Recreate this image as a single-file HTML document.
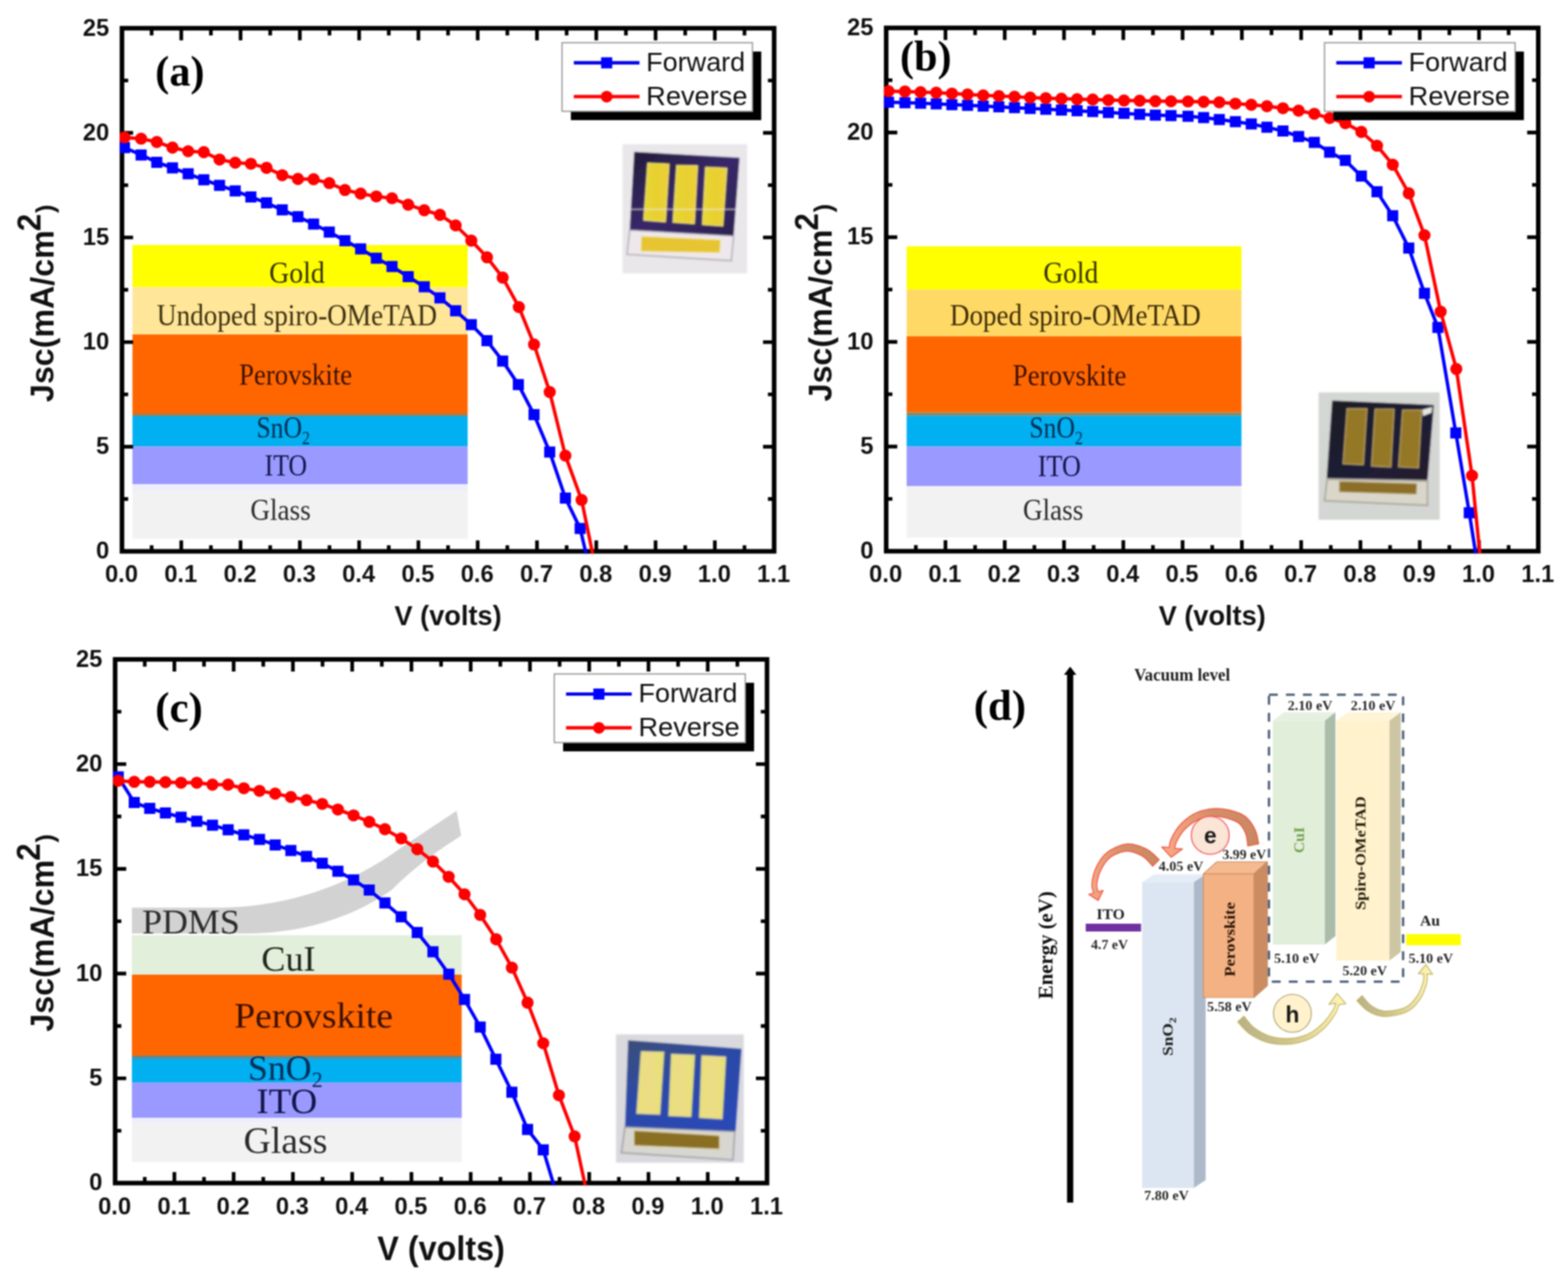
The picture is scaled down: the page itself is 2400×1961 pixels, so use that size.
<!DOCTYPE html>
<html lang="en"><head><meta charset="utf-8"><title>J-V curves and energy level diagram</title>
<style>html,body{margin:0;padding:0;background:#fff;}body{width:2400px;height:1961px;overflow:hidden;}svg{display:block;filter:blur(0.9px);}</style>
</head><body>
<svg width="2400" height="1961" viewBox="0 0 2400 1961">
<defs>
<filter id="ph" x="-5%" y="-5%" width="110%" height="110%"><feGaussianBlur stdDeviation="1.2"/></filter>
<linearGradient id="gA" x1="0" y1="0" x2="1" y2="1"><stop offset="0" stop-color="#221c38"/><stop offset="0.5" stop-color="#38286a"/><stop offset="1" stop-color="#2c2250"/></linearGradient>
<linearGradient id="gB" x1="0" y1="0" x2="1" y2="1"><stop offset="0" stop-color="#1c1a24"/><stop offset="0.6" stop-color="#1f1a36"/><stop offset="1" stop-color="#241c2c"/></linearGradient>
<linearGradient id="gC" x1="0" y1="0" x2="0.6" y2="1"><stop offset="0" stop-color="#3c4f78"/><stop offset="0.5" stop-color="#2c4aa6"/><stop offset="1" stop-color="#2b49b4"/></linearGradient>
<linearGradient id="gGoldA" x1="0" y1="0" x2="1" y2="0"><stop offset="0" stop-color="#e6d838"/><stop offset="0.5" stop-color="#e8d02e"/><stop offset="1" stop-color="#eccf3a"/></linearGradient>
<linearGradient id="gGoldC" x1="0" y1="0" x2="1" y2="0"><stop offset="0" stop-color="#e9e07a"/><stop offset="0.5" stop-color="#ecdc86"/><stop offset="1" stop-color="#e6e274"/></linearGradient>
</defs>
<rect x="0" y="0" width="2400" height="1961" fill="#fff" />
<g id="panel-a">
<rect x="202.7" y="375" width="513.1" height="64.5" fill="#ffff00" />
<rect x="202.7" y="439.5" width="513.1" height="72.5" fill="#ffe699" />
<rect x="202.7" y="512" width="513.1" height="121" fill="#ff6600" />
<rect x="202.7" y="633" width="513.1" height="4" fill="#a08058" />
<rect x="202.7" y="637" width="513.1" height="46.4" fill="#00b0f0" />
<rect x="202.7" y="683.4" width="513.1" height="57.9" fill="#9999ff" />
<rect x="202.7" y="741.3" width="513.1" height="9.7" fill="#eeeefc" />
<rect x="202.7" y="751" width="513.1" height="73.5" fill="#f2f2f2" />
<text x="412" y="432.5" font-family="Liberation Serif, Times New Roman, Times, serif" font-size="47" font-weight="normal" text-anchor="start" fill="#333000" textLength="85" lengthAdjust="spacingAndGlyphs">Gold</text>
<text x="240" y="497.5" font-family="Liberation Serif, Times New Roman, Times, serif" font-size="47" font-weight="normal" text-anchor="start" fill="#3d3010" textLength="429" lengthAdjust="spacingAndGlyphs">Undoped spiro-OMeTAD</text>
<text x="366" y="589" font-family="Liberation Serif, Times New Roman, Times, serif" font-size="47" font-weight="normal" text-anchor="start" fill="#3a1000" textLength="173" lengthAdjust="spacingAndGlyphs">Perovskite</text>
<text x="392.5" y="670.3" font-family="Liberation Serif, Times New Roman, Times, serif" font-size="47" fill="#002e55" textLength="82" lengthAdjust="spacingAndGlyphs">SnO<tspan font-size="29.14" dy="9.4">2</tspan></text>
<text x="405" y="728" font-family="Liberation Serif, Times New Roman, Times, serif" font-size="47" font-weight="normal" text-anchor="start" fill="#14144a" textLength="65" lengthAdjust="spacingAndGlyphs">ITO</text>
<text x="383.25" y="795.5" font-family="Liberation Serif, Times New Roman, Times, serif" font-size="47" font-weight="normal" text-anchor="start" fill="#2c2c2c" textLength="92.5" lengthAdjust="spacingAndGlyphs">Glass</text>
<g filter="url(#ph)">
<rect x="952.8" y="220.7" width="190.8" height="197.7" fill="#e9e7ea" />
<polygon points="963.9,352.1 1122.9,361.1 1119.4,399.1 959.7,389.4" fill="#eee8ec" stroke="#b8b4bc" stroke-width="2.5"/>
<polygon points="970.8,232.5 1131.9,241.5 1122.9,360.4 963.9,351.4" fill="url(#gA)" />
<polygon points="991.5,249.8 1024,251.2 1018.5,339.6 985.3,336.9" fill="url(#gGoldA)" stroke="#f0e27a" stroke-width="1.6"/>
<polygon points="1035.8,253.2 1067.6,253.9 1062.7,342.4 1030.2,340.3" fill="url(#gGoldA)" stroke="#f0e27a" stroke-width="1.6"/>
<polygon points="1080,256 1112.5,257.4 1106.3,345.9 1075.2,343.8" fill="url(#gGoldA)" stroke="#f0e27a" stroke-width="1.6"/>
<polygon points="981.8,361.8 1102.8,367.3 1101.4,386.6 981.2,384.6" fill="#e6c430" stroke="#f0e27a" stroke-width="1.2"/>
<path d="M958 320.5H1132" stroke="#f4eef0" stroke-width="1.4" opacity="0.75"/>
</g>
<path d="M232.07 844v-9.3M232.07 43.2v11M277.45 844v-16.8M277.45 43.2v18.5M322.82 844v-9.3M322.82 43.2v11M368.19 844v-16.8M368.19 43.2v18.5M413.56 844v-9.3M413.56 43.2v11M458.94 844v-16.8M458.94 43.2v18.5M504.31 844v-9.3M504.31 43.2v11M549.68 844v-16.8M549.68 43.2v18.5M595.05 844v-9.3M595.05 43.2v11M640.43 844v-16.8M640.43 43.2v18.5M685.8 844v-9.3M685.8 43.2v11M731.17 844v-16.8M731.17 43.2v18.5M776.55 844v-9.3M776.55 43.2v11M821.92 844v-16.8M821.92 43.2v18.5M867.29 844v-9.3M867.29 43.2v11M912.66 844v-16.8M912.66 43.2v18.5M958.04 844v-9.3M958.04 43.2v11M1003.41 844v-16.8M1003.41 43.2v18.5M1048.78 844v-9.3M1048.78 43.2v11M1094.15 844v-16.8M1094.15 43.2v18.5M1139.53 844v-9.3M1139.53 43.2v11M186.7 763.92h9.5M1184.9 763.92h-9.5M186.7 683.84h17M1184.9 683.84h-17M186.7 603.76h9.5M1184.9 603.76h-9.5M186.7 523.68h17M1184.9 523.68h-17M186.7 443.6h9.5M1184.9 443.6h-9.5M186.7 363.52h17M1184.9 363.52h-17M186.7 283.44h9.5M1184.9 283.44h-9.5M186.7 203.36h17M1184.9 203.36h-17M186.7 123.28h9.5M1184.9 123.28h-9.5" stroke="#000" stroke-width="5.6" fill="none"/>
<rect x="186.7" y="43.2" width="998.2" height="800.8" fill="none" stroke="#000" stroke-width="7"/>
<text x="185.9" y="891.4" font-family="Liberation Sans, Arial, Helvetica, sans-serif" font-size="36.3" font-weight="bold" text-anchor="middle" fill="#111">0.0</text>
<text x="276.65" y="891.4" font-family="Liberation Sans, Arial, Helvetica, sans-serif" font-size="36.3" font-weight="bold" text-anchor="middle" fill="#111">0.1</text>
<text x="367.39" y="891.4" font-family="Liberation Sans, Arial, Helvetica, sans-serif" font-size="36.3" font-weight="bold" text-anchor="middle" fill="#111">0.2</text>
<text x="458.14" y="891.4" font-family="Liberation Sans, Arial, Helvetica, sans-serif" font-size="36.3" font-weight="bold" text-anchor="middle" fill="#111">0.3</text>
<text x="548.88" y="891.4" font-family="Liberation Sans, Arial, Helvetica, sans-serif" font-size="36.3" font-weight="bold" text-anchor="middle" fill="#111">0.4</text>
<text x="639.63" y="891.4" font-family="Liberation Sans, Arial, Helvetica, sans-serif" font-size="36.3" font-weight="bold" text-anchor="middle" fill="#111">0.5</text>
<text x="730.37" y="891.4" font-family="Liberation Sans, Arial, Helvetica, sans-serif" font-size="36.3" font-weight="bold" text-anchor="middle" fill="#111">0.6</text>
<text x="821.12" y="891.4" font-family="Liberation Sans, Arial, Helvetica, sans-serif" font-size="36.3" font-weight="bold" text-anchor="middle" fill="#111">0.7</text>
<text x="911.86" y="891.4" font-family="Liberation Sans, Arial, Helvetica, sans-serif" font-size="36.3" font-weight="bold" text-anchor="middle" fill="#111">0.8</text>
<text x="1002.61" y="891.4" font-family="Liberation Sans, Arial, Helvetica, sans-serif" font-size="36.3" font-weight="bold" text-anchor="middle" fill="#111">0.9</text>
<text x="1093.35" y="891.4" font-family="Liberation Sans, Arial, Helvetica, sans-serif" font-size="36.3" font-weight="bold" text-anchor="middle" fill="#111">1.0</text>
<text x="1184.1" y="891.4" font-family="Liberation Sans, Arial, Helvetica, sans-serif" font-size="36.3" font-weight="bold" text-anchor="middle" fill="#111">1.1</text>
<text x="167.2" y="855.3" font-family="Liberation Sans, Arial, Helvetica, sans-serif" font-size="36.3" font-weight="bold" text-anchor="end" fill="#111">0</text>
<text x="167.2" y="695.14" font-family="Liberation Sans, Arial, Helvetica, sans-serif" font-size="36.3" font-weight="bold" text-anchor="end" fill="#111">5</text>
<text x="167.2" y="534.98" font-family="Liberation Sans, Arial, Helvetica, sans-serif" font-size="36.3" font-weight="bold" text-anchor="end" fill="#111">10</text>
<text x="167.2" y="374.82" font-family="Liberation Sans, Arial, Helvetica, sans-serif" font-size="36.3" font-weight="bold" text-anchor="end" fill="#111">15</text>
<text x="167.2" y="214.66" font-family="Liberation Sans, Arial, Helvetica, sans-serif" font-size="36.3" font-weight="bold" text-anchor="end" fill="#111">20</text>
<text x="167.2" y="54.5" font-family="Liberation Sans, Arial, Helvetica, sans-serif" font-size="36.3" font-weight="bold" text-anchor="end" fill="#111">25</text>
<text x="603.8" y="957" font-family="Liberation Sans, Arial, Helvetica, sans-serif" font-size="43" font-weight="bold" text-anchor="start" fill="#111" textLength="164" lengthAdjust="spacingAndGlyphs">V (volts)</text>
<g transform="translate(82.2 615.5) rotate(-90)" font-family="Liberation Sans, Arial, Helvetica, sans-serif" fill="#111"><text x="0" y="0" font-weight="bold" font-size="49.3">Jsc(mA/cm</text><text x="261.5" y="-20.7" font-weight="bold" font-size="49.3" textLength="26.8" lengthAdjust="spacingAndGlyphs">2</text><text x="289.6" y="0" font-weight="bold" font-size="38.5">)</text></g>
<clipPath id="clipA"><rect x="183.2" y="39.7" width="1005.2" height="807.8"/></clipPath>
<g clip-path="url(#clipA)">
<path d="M190.5 225.9 L216 237.2 L240 248.4 L264 256.9 L288 266 L312 275.3 L336 283.7 L360 292.2 L384 301.5 L408 310.6 L432 321.3 L456 331.7 L480 343 L504 355.2 L528 368.4 L552 381.1 L576 395.3 L600 408 L624.8 423.5 L649.4 439 L673.4 456 L697.4 475.7 L721.4 497 L745.4 521.6 L769.4 552.7 L793.4 588.8 L817.4 634.8 L841.4 691.9 L865.4 762.4 L888 809 L897.4 849" fill="none" stroke="#0000ff" stroke-width="5.2" stroke-linejoin="round"/>
<path d="M182 217.4h17v17h-17zM207.5 228.7h17v17h-17zM231.5 239.9h17v17h-17zM255.5 248.4h17v17h-17zM279.5 257.5h17v17h-17zM303.5 266.8h17v17h-17zM327.5 275.2h17v17h-17zM351.5 283.7h17v17h-17zM375.5 293h17v17h-17zM399.5 302.1h17v17h-17zM423.5 312.8h17v17h-17zM447.5 323.2h17v17h-17zM471.5 334.5h17v17h-17zM495.5 346.7h17v17h-17zM519.5 359.9h17v17h-17zM543.5 372.6h17v17h-17zM567.5 386.8h17v17h-17zM591.5 399.5h17v17h-17zM616.3 415h17v17h-17zM640.9 430.5h17v17h-17zM664.9 447.5h17v17h-17zM688.9 467.2h17v17h-17zM712.9 488.5h17v17h-17zM736.9 513.1h17v17h-17zM760.9 544.2h17v17h-17zM784.9 580.3h17v17h-17zM808.9 626.3h17v17h-17zM832.9 683.4h17v17h-17zM856.9 753.9h17v17h-17zM879.5 800.5h17v17h-17z" fill="#0000ff"/>
<path d="M190.5 210.3 L216 212.3 L240 217.4 L264 225.9 L288 231.5 L312 232.9 L336 244.2 L360 249 L384 250.7 L408 256.9 L432 268.2 L456 273.9 L480 274.4 L504 280.3 L528 290.8 L552 296.4 L576 300.7 L600 303.5 L624.8 313.4 L649.4 321.8 L673.4 328.9 L697.4 345 L721.4 368.4 L745.4 393.8 L769.4 424.9 L794.2 470 L817.4 527.3 L841.4 600.1 L865.4 697.5 L890.2 765.3 L907.4 849" fill="none" stroke="#ff0000" stroke-width="5.2" stroke-linejoin="round"/>
<path d="M181.2 210.3a9.3 9.3 0 1 0 18.6 0a9.3 9.3 0 1 0 -18.6 0zM206.7 212.3a9.3 9.3 0 1 0 18.6 0a9.3 9.3 0 1 0 -18.6 0zM230.7 217.4a9.3 9.3 0 1 0 18.6 0a9.3 9.3 0 1 0 -18.6 0zM254.7 225.9a9.3 9.3 0 1 0 18.6 0a9.3 9.3 0 1 0 -18.6 0zM278.7 231.5a9.3 9.3 0 1 0 18.6 0a9.3 9.3 0 1 0 -18.6 0zM302.7 232.9a9.3 9.3 0 1 0 18.6 0a9.3 9.3 0 1 0 -18.6 0zM326.7 244.2a9.3 9.3 0 1 0 18.6 0a9.3 9.3 0 1 0 -18.6 0zM350.7 249a9.3 9.3 0 1 0 18.6 0a9.3 9.3 0 1 0 -18.6 0zM374.7 250.7a9.3 9.3 0 1 0 18.6 0a9.3 9.3 0 1 0 -18.6 0zM398.7 256.9a9.3 9.3 0 1 0 18.6 0a9.3 9.3 0 1 0 -18.6 0zM422.7 268.2a9.3 9.3 0 1 0 18.6 0a9.3 9.3 0 1 0 -18.6 0zM446.7 273.9a9.3 9.3 0 1 0 18.6 0a9.3 9.3 0 1 0 -18.6 0zM470.7 274.4a9.3 9.3 0 1 0 18.6 0a9.3 9.3 0 1 0 -18.6 0zM494.7 280.3a9.3 9.3 0 1 0 18.6 0a9.3 9.3 0 1 0 -18.6 0zM518.7 290.8a9.3 9.3 0 1 0 18.6 0a9.3 9.3 0 1 0 -18.6 0zM542.7 296.4a9.3 9.3 0 1 0 18.6 0a9.3 9.3 0 1 0 -18.6 0zM566.7 300.7a9.3 9.3 0 1 0 18.6 0a9.3 9.3 0 1 0 -18.6 0zM590.7 303.5a9.3 9.3 0 1 0 18.6 0a9.3 9.3 0 1 0 -18.6 0zM615.5 313.4a9.3 9.3 0 1 0 18.6 0a9.3 9.3 0 1 0 -18.6 0zM640.1 321.8a9.3 9.3 0 1 0 18.6 0a9.3 9.3 0 1 0 -18.6 0zM664.1 328.9a9.3 9.3 0 1 0 18.6 0a9.3 9.3 0 1 0 -18.6 0zM688.1 345a9.3 9.3 0 1 0 18.6 0a9.3 9.3 0 1 0 -18.6 0zM712.1 368.4a9.3 9.3 0 1 0 18.6 0a9.3 9.3 0 1 0 -18.6 0zM736.1 393.8a9.3 9.3 0 1 0 18.6 0a9.3 9.3 0 1 0 -18.6 0zM760.1 424.9a9.3 9.3 0 1 0 18.6 0a9.3 9.3 0 1 0 -18.6 0zM784.9 470a9.3 9.3 0 1 0 18.6 0a9.3 9.3 0 1 0 -18.6 0zM808.1 527.3a9.3 9.3 0 1 0 18.6 0a9.3 9.3 0 1 0 -18.6 0zM832.1 600.1a9.3 9.3 0 1 0 18.6 0a9.3 9.3 0 1 0 -18.6 0zM856.1 697.5a9.3 9.3 0 1 0 18.6 0a9.3 9.3 0 1 0 -18.6 0zM880.9 765.3a9.3 9.3 0 1 0 18.6 0a9.3 9.3 0 1 0 -18.6 0z" fill="#ff0000"/>
</g>
<rect x="873.8" y="78.9" width="291.4" height="105" fill="#000" />
<rect x="860.3" y="65.4" width="291.4" height="105" fill="#fff" stroke="#9a9a9a" stroke-width="2"/>
<path d="M878.3 96.2H978.8" stroke="#0000e8" stroke-width="5.2"/>
<rect x="920.1" y="87.7" width="17" height="17" fill="#0000ff" />
<path d="M878.3 147.9H978.8" stroke="#ff0000" stroke-width="5.2"/>
<circle cx="928.6" cy="147.9" r="9" fill="#ff0000"/>
<text x="989.1" y="108.6" font-family="Liberation Sans, Arial, Helvetica, sans-serif" font-size="40.3" font-weight="normal" text-anchor="start" fill="#111" textLength="151.5" lengthAdjust="spacingAndGlyphs">Forward</text>
<text x="989.1" y="161.1" font-family="Liberation Sans, Arial, Helvetica, sans-serif" font-size="40.3" font-weight="normal" text-anchor="start" fill="#111" textLength="155" lengthAdjust="spacingAndGlyphs">Reverse</text>
<text x="237.6" y="131.3" font-family="Liberation Serif, Times New Roman, Times, serif" font-size="65" font-weight="bold" text-anchor="start" fill="#000" textLength="75.5" lengthAdjust="spacingAndGlyphs">(a)</text>
</g>
<g id="panel-b">
<rect x="1387.7" y="377" width="512.5" height="66.3" fill="#ffff00" />
<rect x="1387.7" y="443.3" width="512.5" height="71.5" fill="#ffd966" />
<rect x="1387.7" y="514.8" width="512.5" height="116.7" fill="#ff6600" />
<rect x="1387.7" y="631.5" width="512.5" height="5.3" fill="#808a70" />
<rect x="1387.7" y="636.8" width="512.5" height="46.6" fill="#00b0f0" />
<rect x="1387.7" y="683.4" width="512.5" height="60.6" fill="#9999ff" />
<rect x="1387.7" y="744" width="512.5" height="79" fill="#f2f2f2" />
<text x="1597" y="432.5" font-family="Liberation Serif, Times New Roman, Times, serif" font-size="47" font-weight="normal" text-anchor="start" fill="#333000" textLength="84" lengthAdjust="spacingAndGlyphs">Gold</text>
<text x="1454" y="497.5" font-family="Liberation Serif, Times New Roman, Times, serif" font-size="47" font-weight="normal" text-anchor="start" fill="#3d2c08" textLength="384" lengthAdjust="spacingAndGlyphs">Doped spiro-OMeTAD</text>
<text x="1550" y="589.5" font-family="Liberation Serif, Times New Roman, Times, serif" font-size="47" font-weight="normal" text-anchor="start" fill="#3a1000" textLength="174" lengthAdjust="spacingAndGlyphs">Perovskite</text>
<text x="1575.5" y="670.3" font-family="Liberation Serif, Times New Roman, Times, serif" font-size="47" fill="#002e55" textLength="82" lengthAdjust="spacingAndGlyphs">SnO<tspan font-size="29.14" dy="9.4">2</tspan></text>
<text x="1588.5" y="729" font-family="Liberation Serif, Times New Roman, Times, serif" font-size="47" font-weight="normal" text-anchor="start" fill="#14144a" textLength="66" lengthAdjust="spacingAndGlyphs">ITO</text>
<text x="1565.75" y="795.5" font-family="Liberation Serif, Times New Roman, Times, serif" font-size="47" font-weight="normal" text-anchor="start" fill="#2c2c2c" textLength="92.5" lengthAdjust="spacingAndGlyphs">Glass</text>
<g filter="url(#ph)">
<rect x="2018.3" y="600.7" width="185.3" height="195" fill="#d3d6d2" />
<polygon points="2031.5,733.5 2184.9,736.2 2184.9,773.6 2027.3,766.6" fill="#dad7ca" stroke="#a8a89c" stroke-width="2.5"/>
<polygon points="2039.1,613.2 2194.6,620.1 2184.9,734.8 2030.8,732.1" fill="url(#gB)" />
<polygon points="2061.9,625.6 2092.3,625.6 2086.8,711.3 2055.7,710" fill="#957828" stroke="#b8a470" stroke-width="1.6"/>
<polygon points="2104.8,626.3 2133.8,626.3 2128.9,714.8 2099.2,713.4" fill="#957828" stroke="#b8a470" stroke-width="1.6"/>
<polygon points="2146.9,627.7 2176,627.7 2171.1,716.2 2140.7,714.8" fill="#957828" stroke="#b8a470" stroke-width="1.6"/>
<polygon points="2050.1,736.9 2168.4,740.4 2167.7,756.3 2050.1,752.8" fill="#8c6e28" stroke="#b8a470" stroke-width="1.2"/>
<polygon points="2177,627 2192,623 2191,632 2178,637" fill="#e8e6e0"/>
</g>
<path d="M1401.77 843.8v-9.3M1401.77 42.7v11M1447.14 843.8v-16.8M1447.14 42.7v18.5M1492.5 843.8v-9.3M1492.5 42.7v11M1537.87 843.8v-16.8M1537.87 42.7v18.5M1583.24 843.8v-9.3M1583.24 42.7v11M1628.61 843.8v-16.8M1628.61 42.7v18.5M1673.98 843.8v-9.3M1673.98 42.7v11M1719.35 843.8v-16.8M1719.35 42.7v18.5M1764.71 843.8v-9.3M1764.71 42.7v11M1810.08 843.8v-16.8M1810.08 42.7v18.5M1855.45 843.8v-9.3M1855.45 42.7v11M1900.82 843.8v-16.8M1900.82 42.7v18.5M1946.19 843.8v-9.3M1946.19 42.7v11M1991.55 843.8v-16.8M1991.55 42.7v18.5M2036.92 843.8v-9.3M2036.92 42.7v11M2082.29 843.8v-16.8M2082.29 42.7v18.5M2127.66 843.8v-9.3M2127.66 42.7v11M2173.03 843.8v-16.8M2173.03 42.7v18.5M2218.4 843.8v-9.3M2218.4 42.7v11M2263.76 843.8v-16.8M2263.76 42.7v18.5M2309.13 843.8v-9.3M2309.13 42.7v11M1356.4 763.69h9.5M2354.5 763.69h-9.5M1356.4 683.58h17M2354.5 683.58h-17M1356.4 603.47h9.5M2354.5 603.47h-9.5M1356.4 523.36h17M2354.5 523.36h-17M1356.4 443.25h9.5M2354.5 443.25h-9.5M1356.4 363.14h17M2354.5 363.14h-17M1356.4 283.03h9.5M2354.5 283.03h-9.5M1356.4 202.92h17M2354.5 202.92h-17M1356.4 122.81h9.5M2354.5 122.81h-9.5" stroke="#000" stroke-width="5.6" fill="none"/>
<rect x="1356.4" y="42.7" width="998.1" height="801.1" fill="none" stroke="#000" stroke-width="7"/>
<text x="1355.6" y="891.2" font-family="Liberation Sans, Arial, Helvetica, sans-serif" font-size="36.3" font-weight="bold" text-anchor="middle" fill="#111">0.0</text>
<text x="1446.34" y="891.2" font-family="Liberation Sans, Arial, Helvetica, sans-serif" font-size="36.3" font-weight="bold" text-anchor="middle" fill="#111">0.1</text>
<text x="1537.07" y="891.2" font-family="Liberation Sans, Arial, Helvetica, sans-serif" font-size="36.3" font-weight="bold" text-anchor="middle" fill="#111">0.2</text>
<text x="1627.81" y="891.2" font-family="Liberation Sans, Arial, Helvetica, sans-serif" font-size="36.3" font-weight="bold" text-anchor="middle" fill="#111">0.3</text>
<text x="1718.55" y="891.2" font-family="Liberation Sans, Arial, Helvetica, sans-serif" font-size="36.3" font-weight="bold" text-anchor="middle" fill="#111">0.4</text>
<text x="1809.28" y="891.2" font-family="Liberation Sans, Arial, Helvetica, sans-serif" font-size="36.3" font-weight="bold" text-anchor="middle" fill="#111">0.5</text>
<text x="1900.02" y="891.2" font-family="Liberation Sans, Arial, Helvetica, sans-serif" font-size="36.3" font-weight="bold" text-anchor="middle" fill="#111">0.6</text>
<text x="1990.75" y="891.2" font-family="Liberation Sans, Arial, Helvetica, sans-serif" font-size="36.3" font-weight="bold" text-anchor="middle" fill="#111">0.7</text>
<text x="2081.49" y="891.2" font-family="Liberation Sans, Arial, Helvetica, sans-serif" font-size="36.3" font-weight="bold" text-anchor="middle" fill="#111">0.8</text>
<text x="2172.23" y="891.2" font-family="Liberation Sans, Arial, Helvetica, sans-serif" font-size="36.3" font-weight="bold" text-anchor="middle" fill="#111">0.9</text>
<text x="2262.96" y="891.2" font-family="Liberation Sans, Arial, Helvetica, sans-serif" font-size="36.3" font-weight="bold" text-anchor="middle" fill="#111">1.0</text>
<text x="2353.7" y="891.2" font-family="Liberation Sans, Arial, Helvetica, sans-serif" font-size="36.3" font-weight="bold" text-anchor="middle" fill="#111">1.1</text>
<text x="1336.9" y="855.1" font-family="Liberation Sans, Arial, Helvetica, sans-serif" font-size="36.3" font-weight="bold" text-anchor="end" fill="#111">0</text>
<text x="1336.9" y="694.88" font-family="Liberation Sans, Arial, Helvetica, sans-serif" font-size="36.3" font-weight="bold" text-anchor="end" fill="#111">5</text>
<text x="1336.9" y="534.66" font-family="Liberation Sans, Arial, Helvetica, sans-serif" font-size="36.3" font-weight="bold" text-anchor="end" fill="#111">10</text>
<text x="1336.9" y="374.44" font-family="Liberation Sans, Arial, Helvetica, sans-serif" font-size="36.3" font-weight="bold" text-anchor="end" fill="#111">15</text>
<text x="1336.9" y="214.22" font-family="Liberation Sans, Arial, Helvetica, sans-serif" font-size="36.3" font-weight="bold" text-anchor="end" fill="#111">20</text>
<text x="1336.9" y="54" font-family="Liberation Sans, Arial, Helvetica, sans-serif" font-size="36.3" font-weight="bold" text-anchor="end" fill="#111">25</text>
<text x="1773.45" y="957" font-family="Liberation Sans, Arial, Helvetica, sans-serif" font-size="43" font-weight="bold" text-anchor="start" fill="#111" textLength="164" lengthAdjust="spacingAndGlyphs">V (volts)</text>
<g transform="translate(1273 614.5) rotate(-90)" font-family="Liberation Sans, Arial, Helvetica, sans-serif" fill="#111"><text x="0" y="0" font-weight="bold" font-size="49.3">Jsc(mA/cm</text><text x="261.5" y="-20.7" font-weight="bold" font-size="49.3" textLength="26.8" lengthAdjust="spacingAndGlyphs">2</text><text x="289.6" y="0" font-weight="bold" font-size="38.5">)</text></g>
<clipPath id="clipB"><rect x="1352.9" y="39.2" width="1005.1" height="808.1"/></clipPath>
<g clip-path="url(#clipB)">
<path d="M1360 156.5 L1385.15 157.2 L1409.1 158 L1433.05 159 L1457 160.2 L1480.95 161.2 L1504.9 162.4 L1528.85 163.6 L1552.8 164.8 L1576.75 166 L1600.7 167.2 L1624.65 168.4 L1648.6 169.6 L1672.55 170.8 L1696.5 172.2 L1720.45 173.6 L1744.4 175 L1768.35 176.2 L1792.3 177 L1818.4 177.9 L1842.3 180.1 L1866.3 182.9 L1890.9 186.3 L1915.2 189.7 L1939.2 194.8 L1963.7 200.5 L1987.7 208.9 L2011.7 218 L2035.2 232.9 L2059.2 245.6 L2083.7 269.6 L2107.7 293.6 L2131.7 330.3 L2156.3 379.7 L2180.3 448.9 L2200.9 501.3 L2228.3 662.8 L2248.9 785 L2259 849" fill="none" stroke="#0000ff" stroke-width="5.2" stroke-linejoin="round"/>
<path d="M1351.5 148h17v17h-17zM1376.65 148.7h17v17h-17zM1400.6 149.5h17v17h-17zM1424.55 150.5h17v17h-17zM1448.5 151.7h17v17h-17zM1472.45 152.7h17v17h-17zM1496.4 153.9h17v17h-17zM1520.35 155.1h17v17h-17zM1544.3 156.3h17v17h-17zM1568.25 157.5h17v17h-17zM1592.2 158.7h17v17h-17zM1616.15 159.9h17v17h-17zM1640.1 161.1h17v17h-17zM1664.05 162.3h17v17h-17zM1688 163.7h17v17h-17zM1711.95 165.1h17v17h-17zM1735.9 166.5h17v17h-17zM1759.85 167.7h17v17h-17zM1783.8 168.5h17v17h-17zM1809.9 169.4h17v17h-17zM1833.8 171.6h17v17h-17zM1857.8 174.4h17v17h-17zM1882.4 177.8h17v17h-17zM1906.7 181.2h17v17h-17zM1930.7 186.3h17v17h-17zM1955.2 192h17v17h-17zM1979.2 200.4h17v17h-17zM2003.2 209.5h17v17h-17zM2026.7 224.4h17v17h-17zM2050.7 237.1h17v17h-17zM2075.2 261.1h17v17h-17zM2099.2 285.1h17v17h-17zM2123.2 321.8h17v17h-17zM2147.8 371.2h17v17h-17zM2171.8 440.4h17v17h-17zM2192.4 492.8h17v17h-17zM2219.8 654.3h17v17h-17zM2240.4 776.5h17v17h-17z" fill="#0000ff"/>
<path d="M1360 139.6 L1385.15 140.2 L1409.1 141 L1433.05 141.8 L1457 143.2 L1480.95 144.6 L1504.9 146 L1528.85 147 L1552.8 148 L1576.75 149.4 L1600.7 150.4 L1624.65 151.2 L1648.6 151.8 L1672.55 152.4 L1696.5 153.2 L1720.45 153.8 L1744.4 154.2 L1768.35 154.8 L1792.3 155 L1818.4 155.3 L1842.3 155.8 L1866.3 156.7 L1890.9 158.7 L1915.2 160.4 L1939.2 162.6 L1963.7 165.7 L1987.7 169.4 L2011.7 174.2 L2035.2 180.7 L2059.2 188.6 L2083.7 201.9 L2107.7 223 L2131.7 252.1 L2156.3 295.9 L2180.3 360 L2205.1 477.1 L2229.1 564.8 L2253.1 728 L2265.2 849" fill="none" stroke="#ff0000" stroke-width="5.2" stroke-linejoin="round"/>
<path d="M1350.7 139.6a9.3 9.3 0 1 0 18.6 0a9.3 9.3 0 1 0 -18.6 0zM1375.85 140.2a9.3 9.3 0 1 0 18.6 0a9.3 9.3 0 1 0 -18.6 0zM1399.8 141a9.3 9.3 0 1 0 18.6 0a9.3 9.3 0 1 0 -18.6 0zM1423.75 141.8a9.3 9.3 0 1 0 18.6 0a9.3 9.3 0 1 0 -18.6 0zM1447.7 143.2a9.3 9.3 0 1 0 18.6 0a9.3 9.3 0 1 0 -18.6 0zM1471.65 144.6a9.3 9.3 0 1 0 18.6 0a9.3 9.3 0 1 0 -18.6 0zM1495.6 146a9.3 9.3 0 1 0 18.6 0a9.3 9.3 0 1 0 -18.6 0zM1519.55 147a9.3 9.3 0 1 0 18.6 0a9.3 9.3 0 1 0 -18.6 0zM1543.5 148a9.3 9.3 0 1 0 18.6 0a9.3 9.3 0 1 0 -18.6 0zM1567.45 149.4a9.3 9.3 0 1 0 18.6 0a9.3 9.3 0 1 0 -18.6 0zM1591.4 150.4a9.3 9.3 0 1 0 18.6 0a9.3 9.3 0 1 0 -18.6 0zM1615.35 151.2a9.3 9.3 0 1 0 18.6 0a9.3 9.3 0 1 0 -18.6 0zM1639.3 151.8a9.3 9.3 0 1 0 18.6 0a9.3 9.3 0 1 0 -18.6 0zM1663.25 152.4a9.3 9.3 0 1 0 18.6 0a9.3 9.3 0 1 0 -18.6 0zM1687.2 153.2a9.3 9.3 0 1 0 18.6 0a9.3 9.3 0 1 0 -18.6 0zM1711.15 153.8a9.3 9.3 0 1 0 18.6 0a9.3 9.3 0 1 0 -18.6 0zM1735.1 154.2a9.3 9.3 0 1 0 18.6 0a9.3 9.3 0 1 0 -18.6 0zM1759.05 154.8a9.3 9.3 0 1 0 18.6 0a9.3 9.3 0 1 0 -18.6 0zM1783 155a9.3 9.3 0 1 0 18.6 0a9.3 9.3 0 1 0 -18.6 0zM1809.1 155.3a9.3 9.3 0 1 0 18.6 0a9.3 9.3 0 1 0 -18.6 0zM1833 155.8a9.3 9.3 0 1 0 18.6 0a9.3 9.3 0 1 0 -18.6 0zM1857 156.7a9.3 9.3 0 1 0 18.6 0a9.3 9.3 0 1 0 -18.6 0zM1881.6 158.7a9.3 9.3 0 1 0 18.6 0a9.3 9.3 0 1 0 -18.6 0zM1905.9 160.4a9.3 9.3 0 1 0 18.6 0a9.3 9.3 0 1 0 -18.6 0zM1929.9 162.6a9.3 9.3 0 1 0 18.6 0a9.3 9.3 0 1 0 -18.6 0zM1954.4 165.7a9.3 9.3 0 1 0 18.6 0a9.3 9.3 0 1 0 -18.6 0zM1978.4 169.4a9.3 9.3 0 1 0 18.6 0a9.3 9.3 0 1 0 -18.6 0zM2002.4 174.2a9.3 9.3 0 1 0 18.6 0a9.3 9.3 0 1 0 -18.6 0zM2025.9 180.7a9.3 9.3 0 1 0 18.6 0a9.3 9.3 0 1 0 -18.6 0zM2049.9 188.6a9.3 9.3 0 1 0 18.6 0a9.3 9.3 0 1 0 -18.6 0zM2074.4 201.9a9.3 9.3 0 1 0 18.6 0a9.3 9.3 0 1 0 -18.6 0zM2098.4 223a9.3 9.3 0 1 0 18.6 0a9.3 9.3 0 1 0 -18.6 0zM2122.4 252.1a9.3 9.3 0 1 0 18.6 0a9.3 9.3 0 1 0 -18.6 0zM2147 295.9a9.3 9.3 0 1 0 18.6 0a9.3 9.3 0 1 0 -18.6 0zM2171 360a9.3 9.3 0 1 0 18.6 0a9.3 9.3 0 1 0 -18.6 0zM2195.8 477.1a9.3 9.3 0 1 0 18.6 0a9.3 9.3 0 1 0 -18.6 0zM2219.8 564.8a9.3 9.3 0 1 0 18.6 0a9.3 9.3 0 1 0 -18.6 0zM2243.8 728a9.3 9.3 0 1 0 18.6 0a9.3 9.3 0 1 0 -18.6 0z" fill="#ff0000"/>
</g>
<rect x="2040.8" y="78.9" width="291.7" height="105" fill="#000" />
<rect x="2027.3" y="65.4" width="291.7" height="105" fill="#fff" stroke="#9a9a9a" stroke-width="2"/>
<path d="M2045.3 96.2H2145.8" stroke="#0000e8" stroke-width="5.2"/>
<rect x="2087.1" y="87.7" width="17" height="17" fill="#0000ff" />
<path d="M2045.3 147.9H2145.8" stroke="#ff0000" stroke-width="5.2"/>
<circle cx="2095.6" cy="147.9" r="9" fill="#ff0000"/>
<text x="2156.1" y="108.6" font-family="Liberation Sans, Arial, Helvetica, sans-serif" font-size="40.3" font-weight="normal" text-anchor="start" fill="#111" textLength="151.5" lengthAdjust="spacingAndGlyphs">Forward</text>
<text x="2156.1" y="161.1" font-family="Liberation Sans, Arial, Helvetica, sans-serif" font-size="40.3" font-weight="normal" text-anchor="start" fill="#111" textLength="155" lengthAdjust="spacingAndGlyphs">Reverse</text>
<text x="1377.5" y="107.5" font-family="Liberation Serif, Times New Roman, Times, serif" font-size="66.5" font-weight="bold" text-anchor="start" fill="#000" textLength="79" lengthAdjust="spacingAndGlyphs">(b)</text>
</g>
<g id="panel-c">
<path d="M201.9 1389.4 L340 1389.4 C430 1388 520 1362 600 1307.5 C640 1280 672 1259 698.8 1241.2 L705.9 1279.3 C680 1296 640 1322 600 1362 C540 1405 460 1428.9 381 1428.9 L201.9 1428.9 Z" fill="#d2d2d2"/>
<rect x="201.9" y="1431.7" width="504.8" height="60.3" fill="#e2efda" />
<rect x="201.9" y="1492" width="504.8" height="124" fill="#ff6600" />
<rect x="201.9" y="1616" width="504.8" height="5" fill="#5f8a96" />
<rect x="201.9" y="1621" width="504.8" height="36.2" fill="#00b0f0" />
<rect x="201.9" y="1657.2" width="504.8" height="54.2" fill="#9999ff" />
<rect x="201.9" y="1711.4" width="504.8" height="7" fill="#eeeefc" />
<rect x="201.9" y="1718.4" width="504.8" height="60.7" fill="#f2f2f2" />
<text x="217.4" y="1429" font-family="Liberation Serif, Times New Roman, Times, serif" font-size="53" font-weight="normal" text-anchor="start" fill="#2c2c2c" textLength="149.6" lengthAdjust="spacingAndGlyphs">PDMS</text>
<text x="400" y="1486" font-family="Liberation Serif, Times New Roman, Times, serif" font-size="54" font-weight="normal" text-anchor="start" fill="#22261e" textLength="83" lengthAdjust="spacingAndGlyphs">CuI</text>
<text x="358.5" y="1572.5" font-family="Liberation Serif, Times New Roman, Times, serif" font-size="55" font-weight="normal" text-anchor="start" fill="#3a1000" textLength="243" lengthAdjust="spacingAndGlyphs">Perovskite</text>
<text x="379.45" y="1653.2" font-family="Liberation Serif, Times New Roman, Times, serif" font-size="55" fill="#002e58" textLength="114.5" lengthAdjust="spacingAndGlyphs">SnO<tspan font-size="34.1" dy="11">2</tspan></text>
<text x="392.5" y="1704" font-family="Liberation Serif, Times New Roman, Times, serif" font-size="55" font-weight="normal" text-anchor="start" fill="#14144a" textLength="93" lengthAdjust="spacingAndGlyphs">ITO</text>
<text x="372.65" y="1764.5" font-family="Liberation Serif, Times New Roman, Times, serif" font-size="58" font-weight="normal" text-anchor="start" fill="#2a2a2a" textLength="128.7" lengthAdjust="spacingAndGlyphs">Glass</text>
<g filter="url(#ph)">
<rect x="942.8" y="1583.5" width="195.6" height="196.3" fill="#d9d9de" />
<polygon points="956.6,1725.2 1124.6,1732.1 1121.9,1775.7 951.1,1764.6" fill="#d8d6d0" stroke="#a4a4a8" stroke-width="2.5"/>
<polygon points="961.5,1592.5 1135,1605.6 1126,1731.4 956.6,1724.5" fill="url(#gC)" />
<polygon points="981.5,1609.8 1016.1,1610.5 1009.9,1705.9 974.6,1704.5" fill="url(#gGoldC)" stroke="#d8d49a" stroke-width="1.6"/>
<polygon points="1027.8,1613.9 1063.1,1615.3 1057.6,1709.3 1023.7,1707.9" fill="url(#gGoldC)" stroke="#d8d49a" stroke-width="1.6"/>
<polygon points="1074.2,1616 1110.8,1618.1 1105.3,1712.8 1070.7,1710.7" fill="url(#gGoldC)" stroke="#d8d49a" stroke-width="1.6"/>
<polygon points="970.5,1730.7 1101.1,1738.4 1101.1,1759.1 970.5,1753.6" fill="#8a6e20" stroke="#d8d49a" stroke-width="1.2"/>
</g>
<path d="M221.55 1811.1v-9.3M221.55 1009.4v11M266.91 1811.1v-16.8M266.91 1009.4v18.5M312.26 1811.1v-9.3M312.26 1009.4v11M357.62 1811.1v-16.8M357.62 1009.4v18.5M402.97 1811.1v-9.3M402.97 1009.4v11M448.33 1811.1v-16.8M448.33 1009.4v18.5M493.68 1811.1v-9.3M493.68 1009.4v11M539.04 1811.1v-16.8M539.04 1009.4v18.5M584.39 1811.1v-9.3M584.39 1009.4v11M629.75 1811.1v-16.8M629.75 1009.4v18.5M675.1 1811.1v-9.3M675.1 1009.4v11M720.45 1811.1v-16.8M720.45 1009.4v18.5M765.81 1811.1v-9.3M765.81 1009.4v11M811.16 1811.1v-16.8M811.16 1009.4v18.5M856.52 1811.1v-9.3M856.52 1009.4v11M901.87 1811.1v-16.8M901.87 1009.4v18.5M947.23 1811.1v-9.3M947.23 1009.4v11M992.58 1811.1v-16.8M992.58 1009.4v18.5M1037.94 1811.1v-9.3M1037.94 1009.4v11M1083.29 1811.1v-16.8M1083.29 1009.4v18.5M1128.65 1811.1v-9.3M1128.65 1009.4v11M176.2 1730.93h9.5M1174 1730.93h-9.5M176.2 1650.76h17M1174 1650.76h-17M176.2 1570.59h9.5M1174 1570.59h-9.5M176.2 1490.42h17M1174 1490.42h-17M176.2 1410.25h9.5M1174 1410.25h-9.5M176.2 1330.08h17M1174 1330.08h-17M176.2 1249.91h9.5M1174 1249.91h-9.5M176.2 1169.74h17M1174 1169.74h-17M176.2 1089.57h9.5M1174 1089.57h-9.5" stroke="#000" stroke-width="5.6" fill="none"/>
<rect x="176.2" y="1009.4" width="997.8" height="801.7" fill="none" stroke="#000" stroke-width="7"/>
<text x="175.4" y="1858.5" font-family="Liberation Sans, Arial, Helvetica, sans-serif" font-size="36.3" font-weight="bold" text-anchor="middle" fill="#111">0.0</text>
<text x="266.11" y="1858.5" font-family="Liberation Sans, Arial, Helvetica, sans-serif" font-size="36.3" font-weight="bold" text-anchor="middle" fill="#111">0.1</text>
<text x="356.82" y="1858.5" font-family="Liberation Sans, Arial, Helvetica, sans-serif" font-size="36.3" font-weight="bold" text-anchor="middle" fill="#111">0.2</text>
<text x="447.53" y="1858.5" font-family="Liberation Sans, Arial, Helvetica, sans-serif" font-size="36.3" font-weight="bold" text-anchor="middle" fill="#111">0.3</text>
<text x="538.24" y="1858.5" font-family="Liberation Sans, Arial, Helvetica, sans-serif" font-size="36.3" font-weight="bold" text-anchor="middle" fill="#111">0.4</text>
<text x="628.95" y="1858.5" font-family="Liberation Sans, Arial, Helvetica, sans-serif" font-size="36.3" font-weight="bold" text-anchor="middle" fill="#111">0.5</text>
<text x="719.65" y="1858.5" font-family="Liberation Sans, Arial, Helvetica, sans-serif" font-size="36.3" font-weight="bold" text-anchor="middle" fill="#111">0.6</text>
<text x="810.36" y="1858.5" font-family="Liberation Sans, Arial, Helvetica, sans-serif" font-size="36.3" font-weight="bold" text-anchor="middle" fill="#111">0.7</text>
<text x="901.07" y="1858.5" font-family="Liberation Sans, Arial, Helvetica, sans-serif" font-size="36.3" font-weight="bold" text-anchor="middle" fill="#111">0.8</text>
<text x="991.78" y="1858.5" font-family="Liberation Sans, Arial, Helvetica, sans-serif" font-size="36.3" font-weight="bold" text-anchor="middle" fill="#111">0.9</text>
<text x="1082.49" y="1858.5" font-family="Liberation Sans, Arial, Helvetica, sans-serif" font-size="36.3" font-weight="bold" text-anchor="middle" fill="#111">1.0</text>
<text x="1173.2" y="1858.5" font-family="Liberation Sans, Arial, Helvetica, sans-serif" font-size="36.3" font-weight="bold" text-anchor="middle" fill="#111">1.1</text>
<text x="156.7" y="1822.4" font-family="Liberation Sans, Arial, Helvetica, sans-serif" font-size="36.3" font-weight="bold" text-anchor="end" fill="#111">0</text>
<text x="156.7" y="1662.06" font-family="Liberation Sans, Arial, Helvetica, sans-serif" font-size="36.3" font-weight="bold" text-anchor="end" fill="#111">5</text>
<text x="156.7" y="1501.72" font-family="Liberation Sans, Arial, Helvetica, sans-serif" font-size="36.3" font-weight="bold" text-anchor="end" fill="#111">10</text>
<text x="156.7" y="1341.38" font-family="Liberation Sans, Arial, Helvetica, sans-serif" font-size="36.3" font-weight="bold" text-anchor="end" fill="#111">15</text>
<text x="156.7" y="1181.04" font-family="Liberation Sans, Arial, Helvetica, sans-serif" font-size="36.3" font-weight="bold" text-anchor="end" fill="#111">20</text>
<text x="156.7" y="1020.7" font-family="Liberation Sans, Arial, Helvetica, sans-serif" font-size="36.3" font-weight="bold" text-anchor="end" fill="#111">25</text>
<text x="577.6" y="1928.8" font-family="Liberation Sans, Arial, Helvetica, sans-serif" font-size="51" font-weight="bold" text-anchor="start" fill="#111" textLength="195" lengthAdjust="spacingAndGlyphs">V (volts)</text>
<g transform="translate(81.6 1579.3) rotate(-90)" font-family="Liberation Sans, Arial, Helvetica, sans-serif" fill="#111"><text x="0" y="0" font-weight="bold" font-size="49.3">Jsc(mA/cm</text><text x="261.5" y="-20.7" font-weight="bold" font-size="49.3" textLength="26.8" lengthAdjust="spacingAndGlyphs">2</text><text x="289.6" y="0" font-weight="bold" font-size="38.5">)</text></g>
<clipPath id="clipC"><rect x="173.1" y="1005.9" width="1004.4" height="808.7"/></clipPath>
<g clip-path="url(#clipC)">
<path d="M181 1189.3 L205.5 1228.4 L229.2 1237.5 L253.2 1244.5 L277.2 1251 L301.2 1257.2 L325.2 1263.2 L349.2 1270.2 L373.2 1277.9 L397.2 1284.9 L421.2 1293.4 L445.2 1301.9 L469.2 1310.9 L493.2 1321.6 L517.2 1333.8 L541.2 1347 L565.2 1362.6 L589.2 1382.3 L614.1 1403.5 L638.7 1427.5 L662.7 1457.1 L687 1491.2 L711 1529.9 L735 1572.2 L759 1621.6 L783.5 1671.9 L807.5 1728.9 L831.5 1760.2 L848.3 1816" fill="none" stroke="#0000ff" stroke-width="5.2" stroke-linejoin="round"/>
<path d="M172.5 1180.8h17v17h-17zM197 1219.9h17v17h-17zM220.7 1229h17v17h-17zM244.7 1236h17v17h-17zM268.7 1242.5h17v17h-17zM292.7 1248.7h17v17h-17zM316.7 1254.7h17v17h-17zM340.7 1261.7h17v17h-17zM364.7 1269.4h17v17h-17zM388.7 1276.4h17v17h-17zM412.7 1284.9h17v17h-17zM436.7 1293.4h17v17h-17zM460.7 1302.4h17v17h-17zM484.7 1313.1h17v17h-17zM508.7 1325.3h17v17h-17zM532.7 1338.5h17v17h-17zM556.7 1354.1h17v17h-17zM580.7 1373.8h17v17h-17zM605.6 1395h17v17h-17zM630.2 1419h17v17h-17zM654.2 1448.6h17v17h-17zM678.5 1482.7h17v17h-17zM702.5 1521.4h17v17h-17zM726.5 1563.7h17v17h-17zM750.5 1613.1h17v17h-17zM775 1663.4h17v17h-17zM799 1720.4h17v17h-17zM823 1751.7h17v17h-17z" fill="#0000ff"/>
<path d="M181 1195.2 L205.5 1196.8 L229.2 1196.8 L253.2 1197.4 L277.2 1198.2 L301.2 1198.2 L325.2 1201.1 L349.2 1201.1 L373.2 1206.7 L397.2 1210.7 L421.2 1214.9 L445.2 1220 L469.2 1224.8 L493.2 1230.7 L517.2 1239.2 L541.2 1248.2 L565.2 1258.1 L589.2 1269.4 L614.1 1283.5 L638.7 1299.9 L662.7 1318.8 L686.7 1342.2 L711 1369 L735 1400.7 L759.5 1437.9 L783.5 1481.3 L807.5 1534.9 L831.5 1597 L855.5 1676.7 L879.5 1739.6 L896 1816" fill="none" stroke="#ff0000" stroke-width="5.2" stroke-linejoin="round"/>
<path d="M171.7 1195.2a9.3 9.3 0 1 0 18.6 0a9.3 9.3 0 1 0 -18.6 0zM196.2 1196.8a9.3 9.3 0 1 0 18.6 0a9.3 9.3 0 1 0 -18.6 0zM219.9 1196.8a9.3 9.3 0 1 0 18.6 0a9.3 9.3 0 1 0 -18.6 0zM243.9 1197.4a9.3 9.3 0 1 0 18.6 0a9.3 9.3 0 1 0 -18.6 0zM267.9 1198.2a9.3 9.3 0 1 0 18.6 0a9.3 9.3 0 1 0 -18.6 0zM291.9 1198.2a9.3 9.3 0 1 0 18.6 0a9.3 9.3 0 1 0 -18.6 0zM315.9 1201.1a9.3 9.3 0 1 0 18.6 0a9.3 9.3 0 1 0 -18.6 0zM339.9 1201.1a9.3 9.3 0 1 0 18.6 0a9.3 9.3 0 1 0 -18.6 0zM363.9 1206.7a9.3 9.3 0 1 0 18.6 0a9.3 9.3 0 1 0 -18.6 0zM387.9 1210.7a9.3 9.3 0 1 0 18.6 0a9.3 9.3 0 1 0 -18.6 0zM411.9 1214.9a9.3 9.3 0 1 0 18.6 0a9.3 9.3 0 1 0 -18.6 0zM435.9 1220a9.3 9.3 0 1 0 18.6 0a9.3 9.3 0 1 0 -18.6 0zM459.9 1224.8a9.3 9.3 0 1 0 18.6 0a9.3 9.3 0 1 0 -18.6 0zM483.9 1230.7a9.3 9.3 0 1 0 18.6 0a9.3 9.3 0 1 0 -18.6 0zM507.9 1239.2a9.3 9.3 0 1 0 18.6 0a9.3 9.3 0 1 0 -18.6 0zM531.9 1248.2a9.3 9.3 0 1 0 18.6 0a9.3 9.3 0 1 0 -18.6 0zM555.9 1258.1a9.3 9.3 0 1 0 18.6 0a9.3 9.3 0 1 0 -18.6 0zM579.9 1269.4a9.3 9.3 0 1 0 18.6 0a9.3 9.3 0 1 0 -18.6 0zM604.8 1283.5a9.3 9.3 0 1 0 18.6 0a9.3 9.3 0 1 0 -18.6 0zM629.4 1299.9a9.3 9.3 0 1 0 18.6 0a9.3 9.3 0 1 0 -18.6 0zM653.4 1318.8a9.3 9.3 0 1 0 18.6 0a9.3 9.3 0 1 0 -18.6 0zM677.4 1342.2a9.3 9.3 0 1 0 18.6 0a9.3 9.3 0 1 0 -18.6 0zM701.7 1369a9.3 9.3 0 1 0 18.6 0a9.3 9.3 0 1 0 -18.6 0zM725.7 1400.7a9.3 9.3 0 1 0 18.6 0a9.3 9.3 0 1 0 -18.6 0zM750.2 1437.9a9.3 9.3 0 1 0 18.6 0a9.3 9.3 0 1 0 -18.6 0zM774.2 1481.3a9.3 9.3 0 1 0 18.6 0a9.3 9.3 0 1 0 -18.6 0zM798.2 1534.9a9.3 9.3 0 1 0 18.6 0a9.3 9.3 0 1 0 -18.6 0zM822.2 1597a9.3 9.3 0 1 0 18.6 0a9.3 9.3 0 1 0 -18.6 0zM846.2 1676.7a9.3 9.3 0 1 0 18.6 0a9.3 9.3 0 1 0 -18.6 0zM870.2 1739.6a9.3 9.3 0 1 0 18.6 0a9.3 9.3 0 1 0 -18.6 0z" fill="#ff0000"/>
</g>
<rect x="861.9" y="1045.2" width="292.3" height="105" fill="#000" />
<rect x="848.4" y="1031.7" width="292.3" height="105" fill="#fff" stroke="#9a9a9a" stroke-width="2"/>
<path d="M866.4 1062.5H966.9" stroke="#0000e8" stroke-width="5.2"/>
<rect x="908.2" y="1054" width="17" height="17" fill="#0000ff" />
<path d="M866.4 1114.2H966.9" stroke="#ff0000" stroke-width="5.2"/>
<circle cx="916.7" cy="1114.2" r="9" fill="#ff0000"/>
<text x="977.2" y="1074.9" font-family="Liberation Sans, Arial, Helvetica, sans-serif" font-size="40.3" font-weight="normal" text-anchor="start" fill="#111" textLength="151.5" lengthAdjust="spacingAndGlyphs">Forward</text>
<text x="977.2" y="1127.4" font-family="Liberation Sans, Arial, Helvetica, sans-serif" font-size="40.3" font-weight="normal" text-anchor="start" fill="#111" textLength="155" lengthAdjust="spacingAndGlyphs">Reverse</text>
<text x="237.5" y="1104.8" font-family="Liberation Serif, Times New Roman, Times, serif" font-size="66" font-weight="bold" text-anchor="start" fill="#000" textLength="73" lengthAdjust="spacingAndGlyphs">(c)</text>
</g>
<g id="panel-d">
<text x="1490.5" y="1101.6" font-family="Liberation Serif, Times New Roman, Times, serif" font-size="66.5" font-weight="bold" text-anchor="start" fill="#000" textLength="80" lengthAdjust="spacingAndGlyphs">(d)</text>
<path d="M1638 1841 V1030" stroke="#000" stroke-width="9.5"/>
<polygon points="1628.5,1033 1638,1020.5 1647.5,1033" fill="#000" />
<text x="1735.9" y="1042.4" font-family="Liberation Serif, Times New Roman, Times, serif" font-size="26.5" font-weight="bold" text-anchor="start" fill="#222" textLength="147" lengthAdjust="spacingAndGlyphs">Vacuum level</text>
<text transform="translate(1611 1447) rotate(-90)" font-family="Liberation Serif, Times New Roman, Times, serif" font-weight="bold" font-size="32" text-anchor="middle" fill="#111" textLength="165" lengthAdjust="spacingAndGlyphs">Energy (eV)</text>
<polygon points="1748.3,1350.6 1766.5,1338.6 1845.4,1338.6 1827.2,1350.6" fill="#e4ecf6" />
<polygon points="1827.2,1350.6 1845.4,1338.6 1845.4,1806.5 1827.2,1818.5" fill="#adb9ca" />
<polygon points="1748.3,1350.6 1827.2,1350.6 1827.2,1818.5 1748.3,1818.5" fill="#dce6f2" />
<polygon points="1841.8,1337.6 1862.4,1319.3 1940,1319.3 1919.4,1337.6" fill="#f6ba90" stroke="#c48a60" stroke-width="1.2" stroke-linejoin="round"/>
<polygon points="1919.4,1337.6 1940,1319.3 1940,1508.7 1919.4,1527" fill="#cc8c62" stroke="#c48a60" stroke-width="1.2" stroke-linejoin="round"/>
<polygon points="1841.8,1337.6 1919.4,1337.6 1919.4,1527 1841.8,1527" fill="#f4b183" stroke="#c48a60" stroke-width="1.2" stroke-linejoin="round"/>
<rect x="1942.3" y="1063.5" width="205.3" height="439.3" fill="none" stroke="#4d5f7a" stroke-width="3.6" stroke-dasharray="13.5 12.5"/>
<polygon points="1948.4,1103.5 1964.8,1090.5 2044,1090.5 2027.6,1103.5" fill="#e6f0e0" />
<polygon points="2027.6,1103.5 2044,1090.5 2044,1432.9 2027.6,1445.9" fill="#aabdaa" />
<polygon points="1948.4,1103.5 2027.6,1103.5 2027.6,1445.9 1948.4,1445.9" fill="#e1eeda" />
<polygon points="2045.3,1103.5 2062.8,1090.5 2144,1090.5 2126.5,1103.5" fill="#fff4d6" />
<polygon points="2126.5,1103.5 2144,1090.5 2144,1457.6 2126.5,1470.6" fill="#cdc6a4" />
<polygon points="2045.3,1103.5 2126.5,1103.5 2126.5,1470.6 2045.3,1470.6" fill="#fff2cc" />
<rect x="1661.8" y="1414" width="84.7" height="12" fill="#7030a0" />
<rect x="2152.4" y="1430" width="83.5" height="17" fill="#ffff00" />
<text x="1678.2" y="1407" font-family="Liberation Serif, Times New Roman, Times, serif" font-size="24" font-weight="bold" text-anchor="start" fill="#222" textLength="43.6" lengthAdjust="spacingAndGlyphs">ITO</text>
<text x="2173.5" y="1417" font-family="Liberation Serif, Times New Roman, Times, serif" font-size="24" font-weight="bold" text-anchor="start" fill="#222" textLength="30.5" lengthAdjust="spacingAndGlyphs">Au</text>
<text x="1670" y="1453" font-family="Liberation Serif, Times New Roman, Times, serif" font-size="20" font-weight="bold" text-anchor="start" fill="#2a2a2a" textLength="56.5" lengthAdjust="spacingAndGlyphs">4.7 eV</text>
<text x="1773.5" y="1333" font-family="Liberation Serif, Times New Roman, Times, serif" font-size="20" font-weight="bold" text-anchor="start" fill="#2a2a2a" textLength="68.3" lengthAdjust="spacingAndGlyphs">4.05 eV</text>
<text x="1871" y="1315.3" font-family="Liberation Serif, Times New Roman, Times, serif" font-size="20" font-weight="bold" text-anchor="start" fill="#2a2a2a" textLength="67" lengthAdjust="spacingAndGlyphs">3.99 eV</text>
<text x="1847.6" y="1548.2" font-family="Liberation Serif, Times New Roman, Times, serif" font-size="20" font-weight="bold" text-anchor="start" fill="#2a2a2a" textLength="68.3" lengthAdjust="spacingAndGlyphs">5.58 eV</text>
<text x="1751.3" y="1837.2" font-family="Liberation Serif, Times New Roman, Times, serif" font-size="20" font-weight="bold" text-anchor="start" fill="#2a2a2a" textLength="68.3" lengthAdjust="spacingAndGlyphs">7.80 eV</text>
<text x="1971" y="1087" font-family="Liberation Serif, Times New Roman, Times, serif" font-size="20" font-weight="bold" text-anchor="start" fill="#2a2a2a" textLength="68.3" lengthAdjust="spacingAndGlyphs">2.10 eV</text>
<text x="2067.6" y="1087" font-family="Liberation Serif, Times New Roman, Times, serif" font-size="20" font-weight="bold" text-anchor="start" fill="#2a2a2a" textLength="68.3" lengthAdjust="spacingAndGlyphs">2.10 eV</text>
<text x="1950" y="1474" font-family="Liberation Serif, Times New Roman, Times, serif" font-size="20" font-weight="bold" text-anchor="start" fill="#2a2a2a" textLength="69.4" lengthAdjust="spacingAndGlyphs">5.10 eV</text>
<text x="2054.7" y="1493" font-family="Liberation Serif, Times New Roman, Times, serif" font-size="20" font-weight="bold" text-anchor="start" fill="#2a2a2a" textLength="68.3" lengthAdjust="spacingAndGlyphs">5.20 eV</text>
<text x="2155.9" y="1474" font-family="Liberation Serif, Times New Roman, Times, serif" font-size="20" font-weight="bold" text-anchor="start" fill="#2a2a2a" textLength="68.3" lengthAdjust="spacingAndGlyphs">5.10 eV</text>
<text transform="translate(1795 1587) rotate(-90)" x="-29.5" y="0" font-family="Liberation Serif, Times New Roman, Times, serif" font-weight="bold" font-size="24" fill="#222" textLength="59" lengthAdjust="spacingAndGlyphs">SnO<tspan font-size="15.6" dy="5.28">2</tspan></text>
<text transform="translate(1890 1438) rotate(-90)" x="-57" y="0" font-family="Liberation Serif, Times New Roman, Times, serif" font-weight="bold" font-size="24" fill="#2a1608" textLength="114" lengthAdjust="spacingAndGlyphs">Perovskite</text>
<text transform="translate(1996 1286) rotate(-90)" x="-20" y="0" font-family="Liberation Serif, Times New Roman, Times, serif" font-weight="bold" font-size="24" fill="#74a24e" textLength="40" lengthAdjust="spacingAndGlyphs">CuI</text>
<text transform="translate(2090 1306) rotate(-90)" x="-87" y="0" font-family="Liberation Serif, Times New Roman, Times, serif" font-weight="bold" font-size="24" fill="#2a2210" textLength="174" lengthAdjust="spacingAndGlyphs">Spiro-OMeTAD</text>
<linearGradient id="gE1" gradientUnits="userSpaceOnUse" x1="1925" y1="0" x2="1790" y2="0"><stop offset="0" stop-color="#c98862"/><stop offset="0.55" stop-color="#d88e68"/><stop offset="1" stop-color="#f6a683"/></linearGradient>
<linearGradient id="gE2" gradientUnits="userSpaceOnUse" x1="1775" y1="0" x2="1670" y2="0"><stop offset="0" stop-color="#c98862"/><stop offset="0.55" stop-color="#d88e68"/><stop offset="1" stop-color="#f6a683"/></linearGradient>
<linearGradient id="gH1" gradientUnits="userSpaceOnUse" x1="1895" y1="0" x2="2050" y2="0"><stop offset="0" stop-color="#b9b088"/><stop offset="0.5" stop-color="#cfc58c"/><stop offset="1" stop-color="#fdf1b4"/></linearGradient>
<linearGradient id="gH2" gradientUnits="userSpaceOnUse" x1="2075" y1="0" x2="2185" y2="0"><stop offset="0" stop-color="#b9b088"/><stop offset="0.5" stop-color="#cfc58c"/><stop offset="1" stop-color="#fdf1b4"/></linearGradient>
<polygon points="1926.56,1291.87 1926.35,1291.06 1926.14,1290.03 1925.89,1288.67 1925.62,1287.06 1925.3,1285.27 1924.94,1283.32 1924.53,1281.27 1924.05,1279.14 1923.49,1276.97 1922.84,1274.78 1922.06,1272.59 1921.19,1270.54 1920.3,1268.72 1919.4,1266.96 1918.43,1265.17 1917.38,1263.35 1916.26,1261.53 1915.06,1259.71 1913.76,1257.91 1912.37,1256.13 1910.87,1254.41 1909.26,1252.74 1907.53,1251.16 1905.68,1249.68 1903.72,1248.33 1901.68,1247.12 1899.59,1246.03 1897.46,1245.04 1895.3,1244.15 1893.11,1243.35 1890.91,1242.61 1888.72,1241.95 1886.54,1241.35 1884.39,1240.8 1882.28,1240.3 1880.2,1239.84 1878.12,1239.42 1875.99,1239.04 1873.86,1238.7 1871.7,1238.42 1869.54,1238.18 1867.36,1238.01 1865.17,1237.89 1862.98,1237.83 1860.78,1237.84 1858.58,1237.91 1856.38,1238.06 1854.2,1238.27 1852.04,1238.52 1849.88,1238.83 1847.7,1239.19 1845.52,1239.62 1843.33,1240.11 1841.14,1240.67 1838.96,1241.3 1836.79,1242 1834.63,1242.77 1832.49,1243.63 1830.38,1244.57 1828.29,1245.59 1826.23,1246.72 1824.17,1247.93 1822.14,1249.24 1820.13,1250.62 1818.15,1252.06 1816.22,1253.56 1814.33,1255.1 1812.49,1256.68 1810.72,1258.29 1809.02,1259.91 1807.4,1261.54 1805.84,1263.19 1804.34,1264.92 1802.89,1266.74 1801.53,1268.61 1800.24,1270.5 1799.02,1272.4 1797.88,1274.29 1796.82,1276.16 1795.83,1277.97 1794.92,1279.72 1794.08,1281.38 1793.33,1282.93 1792.63,1284.41 1791.98,1285.91 1791.43,1287.42 1790.99,1288.86 1790.66,1290.24 1790.41,1291.53 1790.23,1292.73 1790.1,1293.82 1790.01,1294.8 1789.95,1295.63 1789.91,1296.31 1789.88,1296.78 1789.83,1297.19 1778.08,1296.44 1792.6,1312.3 1809.92,1299.56 1798.17,1298.81 1798.33,1298.15 1798.47,1297.36 1798.59,1296.58 1798.71,1295.8 1798.83,1294.98 1798.99,1294.14 1799.17,1293.27 1799.4,1292.37 1799.68,1291.43 1800.03,1290.47 1800.44,1289.48 1800.97,1288.39 1801.64,1287.12 1802.41,1285.69 1803.24,1284.16 1804.14,1282.58 1805.1,1280.94 1806.12,1279.28 1807.19,1277.62 1808.3,1275.98 1809.46,1274.37 1810.66,1272.83 1811.89,1271.38 1813.16,1270.01 1814.53,1268.64 1816,1267.24 1817.55,1265.84 1819.17,1264.46 1820.85,1263.09 1822.57,1261.76 1824.32,1260.48 1826.09,1259.26 1827.87,1258.11 1829.64,1257.05 1831.39,1256.08 1833.11,1255.21 1834.83,1254.42 1836.58,1253.71 1838.38,1253.05 1840.2,1252.46 1842.04,1251.92 1843.91,1251.44 1845.79,1251.03 1847.67,1250.66 1849.57,1250.35 1851.46,1250.09 1853.34,1249.89 1855.2,1249.73 1857.03,1249.65 1858.85,1249.64 1860.69,1249.68 1862.53,1249.78 1864.37,1249.94 1866.22,1250.14 1868.06,1250.4 1869.9,1250.7 1871.74,1251.05 1873.57,1251.45 1875.38,1251.88 1877.2,1252.36 1879.05,1252.88 1880.93,1253.44 1882.82,1254.03 1884.69,1254.66 1886.52,1255.32 1888.3,1256.03 1890.02,1256.77 1891.64,1257.55 1893.16,1258.36 1894.56,1259.2 1895.82,1260.05 1896.92,1260.92 1897.93,1261.84 1898.91,1262.87 1899.87,1263.99 1900.79,1265.21 1901.69,1266.5 1902.54,1267.87 1903.36,1269.29 1904.14,1270.75 1904.88,1272.24 1905.58,1273.75 1906.24,1275.27 1906.81,1276.66 1907.26,1277.93 1907.64,1279.3 1908,1280.84 1908.32,1282.5 1908.6,1284.22 1908.85,1285.97 1909.05,1287.69 1909.24,1289.36 1909.39,1290.94 1909.54,1292.43 1909.69,1293.81 1909.84,1294.93" fill="url(#gE1)" stroke="#f05040" stroke-width="1.5" stroke-linejoin="round"/>
<polygon points="1774.19,1315.99 1773.48,1315.38 1772.62,1314.57 1771.55,1313.5 1770.3,1312.25 1768.9,1310.85 1767.38,1309.37 1765.75,1307.82 1764.02,1306.26 1762.19,1304.72 1760.27,1303.23 1758.26,1301.83 1756.22,1300.6 1754.2,1299.54 1752.14,1298.55 1750,1297.59 1747.8,1296.67 1745.54,1295.81 1743.24,1295.01 1740.92,1294.28 1738.6,1293.63 1736.28,1293.06 1733.99,1292.61 1731.73,1292.26 1729.5,1292.05 1727.31,1291.99 1725.17,1292.07 1723.09,1292.28 1721.07,1292.61 1719.12,1293.03 1717.23,1293.54 1715.41,1294.11 1713.64,1294.74 1711.93,1295.41 1710.28,1296.1 1708.67,1296.81 1707.1,1297.53 1705.53,1298.28 1703.95,1299.07 1702.38,1299.91 1700.83,1300.8 1699.3,1301.74 1697.8,1302.74 1696.29,1303.77 1694.81,1304.87 1693.36,1306.04 1691.94,1307.29 1690.56,1308.62 1689.22,1310.03 1687.9,1311.53 1686.62,1313.13 1685.38,1314.81 1684.17,1316.55 1683,1318.34 1681.88,1320.18 1680.8,1322.05 1679.77,1323.93 1678.8,1325.82 1677.88,1327.71 1677.03,1329.57 1676.25,1331.42 1675.52,1333.31 1674.84,1335.24 1674.23,1337.21 1673.68,1339.19 1673.18,1341.17 1672.74,1343.14 1672.35,1345.07 1672.02,1346.95 1671.74,1348.77 1671.51,1350.51 1671.34,1352.16 1671.22,1353.76 1671.19,1355.37 1671.29,1356.95 1671.48,1358.45 1671.76,1359.86 1672.09,1361.16 1672.45,1362.36 1672.82,1363.45 1673.19,1364.42 1673.51,1365.26 1673.79,1365.95 1673.98,1366.46 1674.11,1366.89 1666.43,1369.1 1681,1378.5 1688.57,1362.9 1680.89,1365.11 1680.73,1364.44 1680.5,1363.64 1680.24,1362.85 1679.96,1362.02 1679.69,1361.16 1679.43,1360.26 1679.19,1359.33 1678.98,1358.37 1678.83,1357.38 1678.74,1356.36 1678.72,1355.34 1678.78,1354.24 1678.92,1352.96 1679.11,1351.51 1679.36,1349.95 1679.66,1348.31 1680,1346.61 1680.4,1344.86 1680.85,1343.1 1681.34,1341.32 1681.88,1339.57 1682.46,1337.85 1683.08,1336.18 1683.75,1334.58 1684.49,1332.97 1685.3,1331.3 1686.17,1329.61 1687.09,1327.92 1688.06,1326.23 1689.07,1324.57 1690.12,1322.95 1691.19,1321.38 1692.29,1319.88 1693.39,1318.47 1694.49,1317.16 1695.58,1315.97 1696.69,1314.88 1697.82,1313.85 1698.99,1312.88 1700.18,1311.98 1701.4,1311.12 1702.65,1310.31 1703.96,1309.58 1705.28,1308.89 1706.64,1308.24 1708.03,1307.62 1709.44,1307.04 1710.9,1306.47 1712.4,1305.91 1713.9,1305.37 1715.4,1304.86 1716.89,1304.4 1718.37,1303.99 1719.84,1303.64 1721.3,1303.35 1722.75,1303.14 1724.19,1303.01 1725.62,1302.96 1727.05,1303.01 1728.5,1303.15 1730.04,1303.4 1731.73,1303.76 1733.52,1304.23 1735.38,1304.79 1737.29,1305.44 1739.22,1306.17 1741.15,1306.96 1743.05,1307.8 1744.89,1308.68 1746.66,1309.59 1748.32,1310.52 1749.78,1311.4 1751.1,1312.3 1752.43,1313.35 1753.81,1314.56 1755.2,1315.87 1756.57,1317.26 1757.92,1318.68 1759.2,1320.1 1760.42,1321.49 1761.56,1322.8 1762.61,1324.01 1763.59,1325.13 1764.41,1326.01" fill="url(#gE2)" stroke="#f05040" stroke-width="1.5" stroke-linejoin="round"/>
<circle cx="1852.4" cy="1278.8" r="29" fill="#fbe5d6" stroke="#f0505a" stroke-width="1.6"/>
<text x="1852.4" y="1290.5" font-family="Liberation Sans, Arial, Helvetica, sans-serif" font-size="35" font-weight="bold" text-anchor="middle" fill="#1a1a1a">e</text>
<polygon points="1894.38,1564.36 1895.17,1565.14 1896.11,1566.16 1897.27,1567.46 1898.59,1568.97 1900.07,1570.64 1901.67,1572.42 1903.39,1574.27 1905.22,1576.15 1907.15,1578.01 1909.17,1579.82 1911.28,1581.55 1913.42,1583.09 1915.54,1584.48 1917.7,1585.81 1919.94,1587.11 1922.25,1588.39 1924.64,1589.63 1927.09,1590.82 1929.6,1591.95 1932.15,1593.02 1934.75,1594.01 1937.38,1594.91 1940.04,1595.71 1942.72,1596.41 1945.43,1597 1948.19,1597.5 1950.99,1597.91 1953.84,1598.24 1956.7,1598.5 1959.58,1598.67 1962.46,1598.77 1965.32,1598.79 1968.16,1598.74 1970.96,1598.61 1973.72,1598.41 1976.41,1598.14 1979.07,1597.79 1981.71,1597.35 1984.34,1596.84 1986.95,1596.25 1989.53,1595.59 1992.08,1594.86 1994.59,1594.08 1997.07,1593.23 1999.5,1592.32 2001.88,1591.34 2004.2,1590.3 2006.47,1589.2 2008.71,1588 2010.91,1586.7 2013.04,1585.32 2015.13,1583.87 2017.15,1582.36 2019.11,1580.8 2021.01,1579.22 2022.85,1577.61 2024.63,1575.99 2026.34,1574.37 2027.98,1572.77 2029.57,1571.18 2031.13,1569.53 2032.63,1567.82 2034.08,1566.07 2035.46,1564.3 2036.77,1562.52 2038.02,1560.76 2039.2,1559.01 2040.32,1557.3 2041.36,1555.64 2042.34,1554.06 2043.25,1552.55 2044.1,1551.12 2044.9,1549.7 2045.63,1548.28 2046.26,1546.89 2046.83,1545.54 2047.32,1544.26 2047.74,1543.05 2048.11,1541.91 2048.43,1540.87 2048.71,1539.94 2048.95,1539.14 2049.14,1538.47 2049.33,1537.92 2059.99,1536.6 2046.5,1520.8 2034.01,1537.4 2044.67,1536.08 2044.39,1536.7 2044.09,1537.45 2043.77,1538.28 2043.43,1539.17 2043.06,1540.13 2042.66,1541.15 2042.21,1542.23 2041.71,1543.34 2041.15,1544.49 2040.54,1545.67 2039.86,1546.86 2039.1,1548.08 2038.23,1549.4 2037.28,1550.83 2036.28,1552.33 2035.21,1553.89 2034.09,1555.48 2032.91,1557.09 2031.68,1558.72 2030.4,1560.33 2029.07,1561.93 2027.7,1563.48 2026.29,1564.98 2024.83,1566.42 2023.29,1567.87 2021.67,1569.36 2019.99,1570.84 2018.27,1572.32 2016.5,1573.77 2014.69,1575.2 2012.84,1576.57 2010.95,1577.9 2009.03,1579.15 2007.09,1580.33 2005.12,1581.41 2003.13,1582.4 2001.07,1583.33 1998.94,1584.21 1996.75,1585.03 1994.52,1585.8 1992.24,1586.51 1989.92,1587.15 1987.57,1587.71 1985.2,1588.2 1982.81,1588.63 1980.41,1588.98 1978,1589.26 1975.59,1589.46 1973.14,1589.6 1970.63,1589.66 1968.06,1589.67 1965.46,1589.6 1962.84,1589.47 1960.22,1589.27 1957.61,1588.99 1955.02,1588.65 1952.48,1588.24 1950,1587.76 1947.59,1587.21 1945.28,1586.59 1943.03,1585.89 1940.78,1585.1 1938.53,1584.21 1936.29,1583.24 1934.09,1582.2 1931.91,1581.09 1929.78,1579.93 1927.7,1578.73 1925.69,1577.49 1923.75,1576.22 1921.89,1574.95 1920.18,1573.71 1918.61,1572.44 1917.05,1571.03 1915.48,1569.47 1913.92,1567.81 1912.4,1566.08 1910.93,1564.34 1909.53,1562.62 1908.22,1560.96 1907.01,1559.4 1905.89,1557.96 1904.87,1556.67 1904.02,1555.64" fill="url(#gH1)" stroke="#c4b766" stroke-width="1.5" stroke-linejoin="round"/>
<polygon points="2076.82,1531.79 2077.55,1532.48 2078.43,1533.39 2079.52,1534.56 2080.77,1535.92 2082.15,1537.41 2083.65,1539 2085.26,1540.64 2086.95,1542.28 2088.72,1543.89 2090.57,1545.43 2092.49,1546.86 2094.42,1548.09 2096.25,1549.11 2098.06,1550.08 2099.93,1551.01 2101.86,1551.9 2103.86,1552.74 2105.93,1553.51 2108.07,1554.2 2110.29,1554.79 2112.58,1555.28 2114.94,1555.64 2117.38,1555.88 2119.88,1555.96 2122.47,1555.92 2125.2,1555.75 2128.04,1555.48 2130.97,1555.1 2133.95,1554.62 2136.95,1554.05 2139.94,1553.38 2142.88,1552.61 2145.74,1551.76 2148.49,1550.82 2151.09,1549.78 2153.52,1548.65 2155.8,1547.43 2157.95,1546.07 2159.98,1544.59 2161.89,1543.03 2163.69,1541.39 2165.38,1539.69 2166.98,1537.94 2168.49,1536.16 2169.92,1534.37 2171.27,1532.57 2172.56,1530.79 2173.81,1529 2175.02,1527.12 2176.17,1525.13 2177.23,1523.08 2178.2,1521 2179.1,1518.91 2179.93,1516.82 2180.68,1514.76 2181.37,1512.75 2182,1510.8 2182.57,1508.95 2183.07,1507.21 2183.53,1505.56 2183.92,1503.93 2184.21,1502.31 2184.41,1500.75 2184.52,1499.25 2184.57,1497.84 2184.57,1496.51 2184.53,1495.29 2184.47,1494.17 2184.4,1493.18 2184.35,1492.34 2184.31,1491.66 2184.3,1491.08 2192.79,1491.45 2182.4,1476.5 2170.81,1490.55 2179.3,1490.92 2179.25,1491.62 2179.24,1492.47 2179.24,1493.37 2179.25,1494.35 2179.25,1495.38 2179.23,1496.49 2179.18,1497.64 2179.09,1498.85 2178.95,1500.1 2178.74,1501.38 2178.45,1502.68 2178.07,1504.04 2177.59,1505.55 2177.05,1507.22 2176.46,1508.98 2175.81,1510.82 2175.11,1512.7 2174.35,1514.61 2173.53,1516.53 2172.66,1518.43 2171.73,1520.29 2170.74,1522.08 2169.7,1523.78 2168.59,1525.4 2167.4,1527.03 2166.13,1528.68 2164.83,1530.32 2163.48,1531.94 2162.07,1533.51 2160.62,1535.03 2159.1,1536.48 2157.52,1537.85 2155.87,1539.14 2154.15,1540.32 2152.36,1541.39 2150.48,1542.35 2148.41,1543.2 2146.12,1544 2143.64,1544.74 2141.02,1545.41 2138.3,1546 2135.52,1546.51 2132.74,1546.94 2129.98,1547.28 2127.29,1547.52 2124.72,1547.66 2122.31,1547.7 2120.12,1547.64 2118.12,1547.46 2116.19,1547.18 2114.34,1546.79 2112.54,1546.31 2110.79,1545.73 2109.09,1545.08 2107.43,1544.35 2105.79,1543.56 2104.19,1542.7 2102.61,1541.8 2101.05,1540.85 2099.58,1539.91 2098.23,1538.94 2096.87,1537.81 2095.46,1536.51 2094.04,1535.08 2092.64,1533.57 2091.27,1532.02 2089.96,1530.48 2088.73,1528.99 2087.58,1527.58 2086.53,1526.28 2085.57,1525.12 2084.78,1524.21" fill="url(#gH2)" stroke="#c4b766" stroke-width="1.5" stroke-linejoin="round"/>
<circle cx="1978.2" cy="1551.3" r="29" fill="#fff2cc" stroke="#b0a878" stroke-width="1.6"/>
<text x="1978.2" y="1564.5" font-family="Liberation Sans, Arial, Helvetica, sans-serif" font-size="35" font-weight="bold" text-anchor="middle" fill="#1a1a1a">h</text>
</g>
</svg></body></html>
